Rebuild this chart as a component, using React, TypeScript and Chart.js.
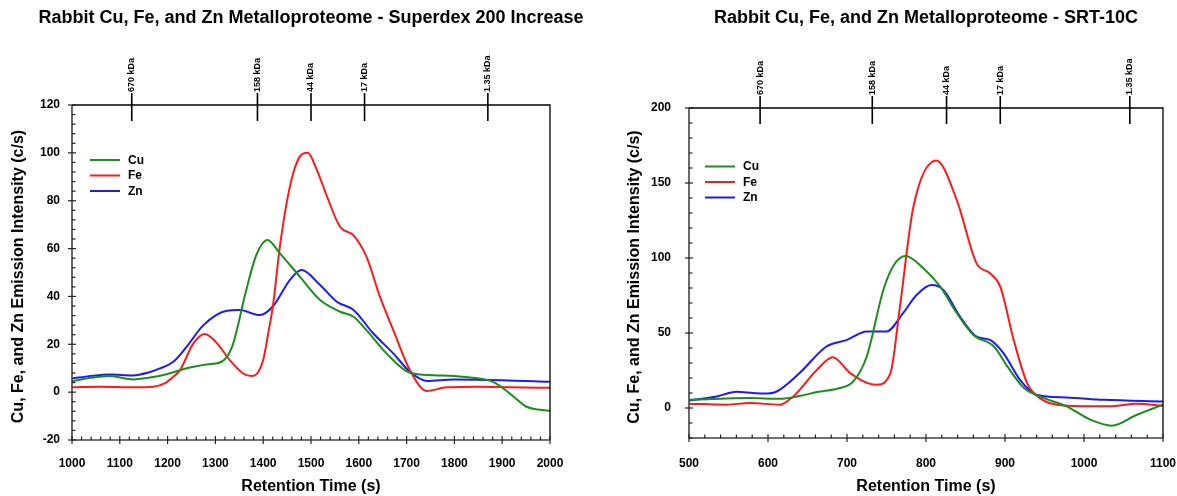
import React, { useEffect, useRef } from "react";
import { Chart, registerables } from "chart.js";

Chart.register(...registerables);

const FONT = "'Liberation Sans', Arial, Helvetica, sans-serif";

// ---------- Superdex 200 Increase (left) ----------
const leftCuX = [1000, 1040, 1079, 1128, 1160, 1198, 1240, 1282, 1313, 1335, 1365, 1385, 1409, 1435, 1477, 1519, 1561, 1589, 1616, 1658, 1707, 1756, 1818, 1881, 1916, 1951, 2000];
const leftCuY = [4.6, 6, 6.7, 5.3, 6, 7.5, 10, 11.6, 12.7, 19, 43, 57, 63.6, 58, 48.2, 38.5, 33.6, 31.5, 25.9, 16.2, 8.1, 7.1, 6.4, 4.3, -0.6, -6.1, -7.8];

const leftFeX = [1000, 1060, 1128, 1170, 1195, 1212, 1226, 1254, 1278, 1303, 1330, 1358, 1376, 1390, 1400, 1410, 1421, 1435, 1456, 1477, 1493, 1512, 1533, 1561, 1588, 1616, 1644, 1672, 1707, 1742, 1784, 1850, 1920, 2000];
const leftFeY = [2, 2.3, 2, 2.3, 3.8, 6.4, 9.2, 20.4, 24.3, 20.5, 13.4, 7.8, 6.7, 8.5, 13.4, 24, 37, 61, 86, 98.5, 100, 93, 82, 69, 65.7, 56.6, 40, 26, 9.2, 0.5, 2, 2.3, 2, 1.8];

const leftZnX = [1000, 1040, 1079, 1128, 1160, 1184, 1212, 1240, 1275, 1324, 1351, 1393, 1421, 1456, 1480, 1519, 1554, 1589, 1630, 1672, 1707, 1742, 1798, 1900, 2000];
const leftZnY = [5.7, 6.8, 7.4, 7, 8.2, 9.9, 12.7, 19, 28, 34, 34.3, 32.2, 36, 46.9, 51, 44.8, 37.8, 34.3, 24.6, 16.2, 8.5, 4.7, 5.3, 5, 4.3];

const leftMarkerX = [1125, 1388, 1500, 1612, 1870];

// ---------- SRT-10C (right) ----------
const rightCuX = [500, 540, 577, 615, 640, 662, 691, 708, 725, 746, 759, 774, 797, 818, 839, 860, 886, 903, 924, 944, 978, 1008, 1035, 1067, 1100];
const rightCuY = [5.5, 6.2, 6.6, 6.2, 8, 10.6, 13.3, 17.7, 34.3, 78.7, 95, 101.3, 93, 80.9, 63.2, 48.7, 41, 27.7, 13.3, 7.7, 1.1, -7.8, -11.8, -4.5, 2.2];

const rightFeX = [500, 548, 577, 615, 632, 662, 682, 704, 737, 755, 767, 784, 813, 839, 864, 881, 894, 911, 928, 944, 974, 1033, 1067, 1100];
const rightFeY = [2.9, 2.2, 3.3, 2.2, 7.7, 25.5, 33.9, 23.3, 15.5, 23.3, 67.6, 134, 165, 138.6, 96.4, 89.8, 80.9, 45.4, 16.6, 6.6, 1.7, 1.1, 2.9, 1.5];

const rightZnX = [500, 535, 560, 581, 595, 611, 640, 674, 700, 725, 750, 771, 788, 807, 822, 843, 864, 881, 898, 919, 940, 978, 1025, 1100];
const rightZnY = [5, 7.7, 10.8, 10, 9.6, 11, 23.3, 41, 45.4, 51, 51, 63.2, 75.3, 82, 78.7, 61, 47.6, 45.4, 36.6, 18.8, 8.8, 7, 5.5, 4.4];

const rightMarkerX = [590, 732, 826, 894, 1058];

const markerLabels = ["670 kDa", "158 kDa", "44 kDa", "17 kDa", "1.35 kDa"];
const seriesNames = ["Cu", "Fe", "Zn"];
const seriesColors = ["#1e8c1e", "#ff1a1a", "#1a1aff"];

const yAxisTitle = "Cu, Fe, and Zn Emission Intensity (c/s)";
const xAxisTitle = "Retention Time (s)";

const zip = (xs: number[], ys: number[]) => xs.map((x, i) => ({ x, y: ys[i] }));

type Panel = {
  title: string;
  xs: number[][];
  ys: number[][];
  xMin: number; xMax: number; xStep: number; xMajor: number;
  yMin: number; yMax: number; yStep: number; yMajor: number;
  markers: number[];
  padTop: number; padRight: number; yWidth: number; xHeight: number;
  yTickPad: number; xTickPad: number;
  yTitleX: number;
  legendX: number; legendY: number;
};

const decorPlugin = {
  id: "decor",
  afterDraw(chart: any, _args: any, opts: any) {
    const p: Panel = opts.panel;
    const { ctx, chartArea: a, scales } = chart;
    const xs = scales.x, ys = scales.y;
    ctx.save();
    // frame
    ctx.lineWidth = 1.3;
    ctx.strokeStyle = "#000";
    ctx.beginPath();
    ctx.moveTo(a.left, a.top);
    ctx.lineTo(a.right, a.top);
    ctx.lineTo(a.right, a.bottom);
    ctx.stroke();
    ctx.strokeStyle = "#444";
    ctx.lineWidth = 1.6;
    ctx.beginPath();
    ctx.moveTo(a.left, a.top);
    ctx.lineTo(a.left, a.bottom);
    ctx.lineTo(a.right, a.bottom);
    ctx.stroke();
    // x ticks
    ctx.lineWidth = 1.2;
    ctx.strokeStyle = "#222";
    for (const t of xs.ticks) {
      const px = xs.getPixelForValue(t.value);
      const major = Math.abs(t.value % p.xMajor) < 1e-6;
      ctx.beginPath();
      if (major) { ctx.moveTo(px, a.bottom - 4); ctx.lineTo(px, a.bottom + 4); }
      else { ctx.moveTo(px, a.bottom - 3.5); ctx.lineTo(px, a.bottom); }
      ctx.stroke();
    }
    for (const t of ys.ticks) {
      const py = ys.getPixelForValue(t.value);
      const major = Math.abs(t.value % p.yMajor) < 1e-6;
      ctx.beginPath();
      if (major) { ctx.moveTo(a.left - 4, py); ctx.lineTo(a.left + 4, py); }
      else { ctx.moveTo(a.left, py); ctx.lineTo(a.left + 3.5, py); }
      ctx.stroke();
    }
    // markers
    ctx.strokeStyle = "#000";
    ctx.lineWidth = 1.6;
    ctx.fillStyle = "#000";
    ctx.font = `bold 9px ${FONT}`;
    p.markers.forEach((m, i) => {
      const px = xs.getPixelForValue(m);
      ctx.beginPath();
      ctx.moveTo(px, a.top - 12);
      ctx.lineTo(px, a.top + 16);
      ctx.stroke();
      ctx.save();
      ctx.translate(px, a.top - 13);
      ctx.rotate(-Math.PI / 2);
      ctx.textAlign = "left";
      ctx.textBaseline = "middle";
      ctx.fillText(markerLabels[i], 0, 0);
      ctx.restore();
    });
    // legend
    ctx.font = `bold 12px ${FONT}`;
    ctx.textAlign = "left";
    ctx.textBaseline = "middle";
    seriesNames.forEach((n, i) => {
      const y = p.legendY + i * 15.5;
      ctx.strokeStyle = seriesColors[i];
      ctx.lineWidth = 2;
      ctx.beginPath();
      ctx.moveTo(p.legendX, y);
      ctx.lineTo(p.legendX + 30, y);
      ctx.stroke();
      ctx.fillStyle = "#000";
      ctx.fillText(n, p.legendX + 38, y + 0.5);
    });
    // titles
    const cx = (a.left + a.right) / 2;
    ctx.fillStyle = "#000";
    ctx.textAlign = "center";
    ctx.textBaseline = "middle";
    ctx.font = `bold 18px ${FONT}`;
    ctx.fillText(p.title, cx, 18);
    ctx.font = `bold 16px ${FONT}`;
    ctx.fillText(xAxisTitle, cx, 487);
    ctx.save();
    ctx.translate(p.yTitleX, (a.top + a.bottom) / 2 + 4);
    ctx.rotate(-Math.PI / 2);
    ctx.fillText(yAxisTitle, 0, 0);
    ctx.restore();
    ctx.restore();
  },
};

function buildConfig(p: Panel): any {
  return {
    type: "line",
    data: {
      datasets: seriesNames.map((n, i) => ({
        label: n,
        data: zip(p.xs[i], p.ys[i]),
        borderColor: seriesColors[i],
        backgroundColor: seriesColors[i],
        borderWidth: 2,
        pointRadius: 0,
        tension: 0.4,
        cubicInterpolationMode: "monotone",
        fill: false,
      })),
    },
    options: {
      responsive: false,
      animation: false,
      events: [],
      layout: { padding: { left: 0, right: p.padRight, top: p.padTop, bottom: 0 } },
      plugins: {
        legend: { display: false },
        title: { display: false },
        tooltip: { enabled: false },
        decor: { panel: p },
      },
      scales: {
        x: {
          type: "linear",
          min: p.xMin,
          max: p.xMax,
          border: { display: false },
          grid: { display: false, drawTicks: false },
          afterFit: (s: any) => { s.height = p.xHeight; },
          ticks: {
            stepSize: p.xStep,
            autoSkip: false,
            maxRotation: 0,
            padding: p.xTickPad,
            color: "#000",
            font: { family: FONT, size: 12, weight: "bold" },
            callback: (v: number) => (Math.abs(v % p.xMajor) < 1e-6 ? String(v) : ""),
          },
        },
        y: {
          type: "linear",
          min: p.yMin,
          max: p.yMax,
          border: { display: false },
          grid: { display: false, drawTicks: false },
          afterFit: (s: any) => { s.width = p.yWidth; },
          ticks: {
            stepSize: p.yStep,
            autoSkip: false,
            padding: p.yTickPad,
            color: "#000",
            font: { family: FONT, size: 12, weight: "bold" },
            callback: (v: number) => (Math.abs(v % p.yMajor) < 1e-6 ? String(v) : ""),
          },
        },
      },
    },
    plugins: [decorPlugin],
  };
}

const leftPanel: Panel = {
  title: "Rabbit Cu, Fe, and Zn Metalloproteome - Superdex 200 Increase",
  xs: [leftCuX, leftFeX, leftZnX],
  ys: [leftCuY, leftFeY, leftZnY],
  xMin: 1000, xMax: 2000, xStep: 20, xMajor: 100,
  yMin: -20, yMax: 120, yStep: 4, yMajor: 20,
  markers: leftMarkerX,
  padTop: 105, padRight: 40, yWidth: 72, xHeight: 56,
  yTickPad: 12, xTickPad: 16,
  yTitleX: 19,
  legendX: 90, legendY: 160,
};

const rightPanel: Panel = {
  title: "Rabbit Cu, Fe, and Zn Metalloproteome - SRT-10C",
  xs: [rightCuX, rightFeX, rightZnX],
  ys: [rightCuY, rightFeY, rightZnY],
  xMin: 500, xMax: 1100, xStep: 20, xMajor: 100,
  yMin: -20, yMax: 200, yStep: 10, yMajor: 50,
  markers: rightMarkerX,
  padTop: 108, padRight: 37, yWidth: 99, xHeight: 58,
  yTickPad: 18, xTickPad: 18,
  yTitleX: 45,
  legendX: 115, legendY: 166.5,
};

function ChartCanvas({ panel, left, width }: { panel: Panel; left: number; width: number }) {
  const ref = useRef<HTMLCanvasElement | null>(null);
  useEffect(() => {
    if (!ref.current) return;
    const chart = new Chart(ref.current, buildConfig(panel));
    return () => chart.destroy();
  }, [panel]);
  return (
    <canvas
      ref={ref}
      width={width}
      height={496}
      style={{ position: "absolute", left, top: 0, width, height: 496 }}
    />
  );
}

export default function App() {
  return (
    <div
      style={{
        position: "fixed",
        left: 0,
        top: 0,
        width: 1177,
        height: 496,
        overflow: "hidden",
        background: "#fff",
      }}
    >
      <ChartCanvas panel={leftPanel} left={0} width={590} />
      <ChartCanvas panel={rightPanel} left={590} width={610} />
    </div>
  );
}
